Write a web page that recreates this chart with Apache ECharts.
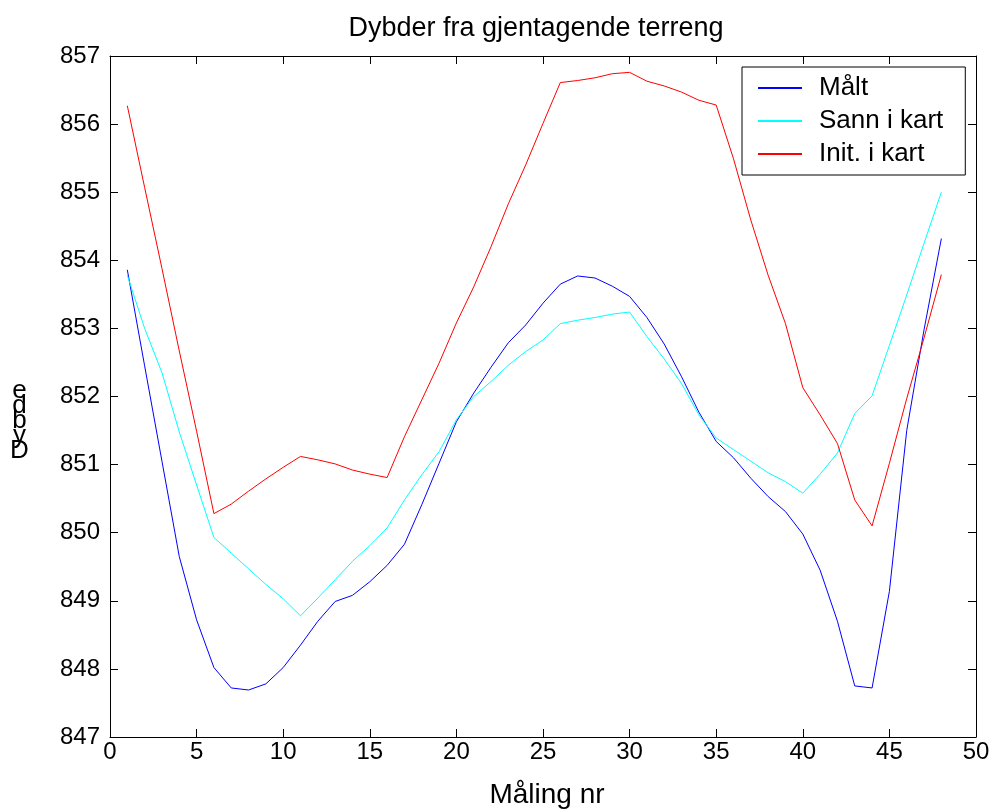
<!DOCTYPE html>
<html>
<head>
<meta charset="utf-8">
<script src="https://cdn.jsdelivr.net/npm/echarts@6/dist/echarts.min.js"></script>
<style>html,body{margin:0;padding:0;background:#fff;}#c{width:993px;height:809px;}</style>
</head>
<body>
<div id="c"></div>
<script>
var measurementNo = [1,2,3,4,5,6,7,8,9,10,11,12,13,14,15,16,17,18,19,20,21,22,23,24,25,26,27,28,29,30,31,32,33,34,35,36,37,38,39,40,41,42,43,44,45,46,47,48];
var malt = [853.86,852.45,851.05,849.65,848.72,848.02,847.72,847.69,847.78,848.02,848.35,848.70,848.99,849.08,849.28,849.52,849.83,850.41,851.02,851.63,852.05,852.43,852.79,853.05,853.37,853.65,853.77,853.74,853.62,853.47,853.16,852.77,852.29,851.77,851.34,851.10,850.80,850.53,850.31,849.98,849.45,848.70,847.75,847.72,849.14,851.50,852.98,854.32];
var sannIKart = [853.78,853.00,852.35,851.48,850.70,849.93,849.70,849.47,849.24,849.03,848.78,849.04,849.31,849.58,849.81,850.07,850.48,850.85,851.19,851.66,852.00,852.22,852.46,852.66,852.83,853.07,853.12,853.16,853.21,853.24,852.88,852.55,852.19,851.73,851.39,851.22,851.05,850.88,850.75,850.58,850.86,851.17,851.75,852.01,852.75,853.49,854.25,855.00];
var initIKart = [856.27,855.07,853.88,852.67,851.49,850.28,850.42,850.61,850.79,850.96,851.12,851.07,851.01,850.92,850.86,850.81,851.41,851.95,852.49,853.08,853.61,854.20,854.83,855.40,856.01,856.61,856.64,856.68,856.74,856.76,856.63,856.56,856.47,856.35,856.28,855.49,854.59,853.78,853.07,852.13,851.73,851.31,850.48,850.10,851.02,851.97,852.86,853.79];
var seriesNames = ['Målt','Sann i kart','Init. i kart'];
var seriesColors = ['#0000ff','#00ffff','#ff0000'];
var titleText = 'Dybder fra gjentagende terreng';
var xLabel = 'Måling nr';
var yLabel = 'Dybde';

function pairs(vals){ return measurementNo.map(function(x,i){ return [x, vals[i]]; }); }

var FONT = '"Liberation Sans", Arial, sans-serif';
var chart = echarts.init(document.getElementById('c'), null, {renderer:'canvas'});

var axisCommon = {
  axisLine:{show:true, onZero:false, lineStyle:{color:'#000', width:1}},
  axisTick:{show:true, inside:true, length:8, lineStyle:{color:'#000', width:1}},
  splitLine:{show:false}
};

// stacked y-label letters, bottom-to-top as in the reference
var stacked = yLabel.split('').reverse().join('\n');

chart.setOption({
  animation:false,
  backgroundColor:'#fff',
  color:seriesColors,
  title:{text:titleText, left:531, textAlign:'center', top:10,
    textStyle:{fontFamily:FONT, fontSize:27, fontWeight:'normal', color:'#000'}},
  grid:{left:110, right:17, top:56, bottom:72, outerBoundsMode:'none', containLabel:false},
  legend:{
    data:seriesNames.map(function(n,i){ return {name:n, itemStyle:{color:seriesColors[i]}}; }),
    orient:'vertical', left:742, top:67,
    backgroundColor:'#fff', borderColor:'#000', borderWidth:1,
    padding:[8,22,8,16], itemGap:7, itemWidth:44, itemHeight:2,
    icon:'rect', itemStyle:{borderWidth:0},
    textStyle:{fontFamily:FONT, fontSize:26, color:'#000', padding:[0,0,0,12], lineHeight:24}
  },
  xAxis:[
    Object.assign({type:'value', min:0, max:50, interval:5, position:'bottom',
      name:xLabel, nameLocation:'middle', nameGap:44,
      nameTextStyle:{fontFamily:FONT, fontSize:28, color:'#000', padding:[0,0,0,8]},
      axisLabel:{fontFamily:FONT, fontSize:24, color:'#000', margin:3}}, axisCommon),
    Object.assign({type:'value', min:0, max:50, interval:5, position:'top',
      axisLabel:{show:false}}, axisCommon)
  ],
  yAxis:[
    Object.assign({type:'value', min:847, max:857, interval:1, position:'left',
      axisLabel:{fontFamily:FONT, fontSize:24, color:'#000', margin:10}}, axisCommon),
    Object.assign({type:'value', min:847, max:857, interval:1, position:'right',
      axisLabel:{show:false}}, axisCommon)
  ],
  graphic:[{
    type:'text', left:10, top:378,
    style:{text:stacked, font:'26px "Liberation Sans", Arial, sans-serif', lineHeight:15, fill:'#000', textAlign:'center'}
  }],
  series:[
    {name:seriesNames[0], type:'line', data:pairs(malt), symbol:'none', lineStyle:{color:seriesColors[0], width:1}},
    {name:seriesNames[1], type:'line', data:pairs(sannIKart), symbol:'none', lineStyle:{color:seriesColors[1], width:1}},
    {name:seriesNames[2], type:'line', data:pairs(initIKart), symbol:'none', lineStyle:{color:seriesColors[2], width:1}}
  ]
});
</script>
</body>
</html>
